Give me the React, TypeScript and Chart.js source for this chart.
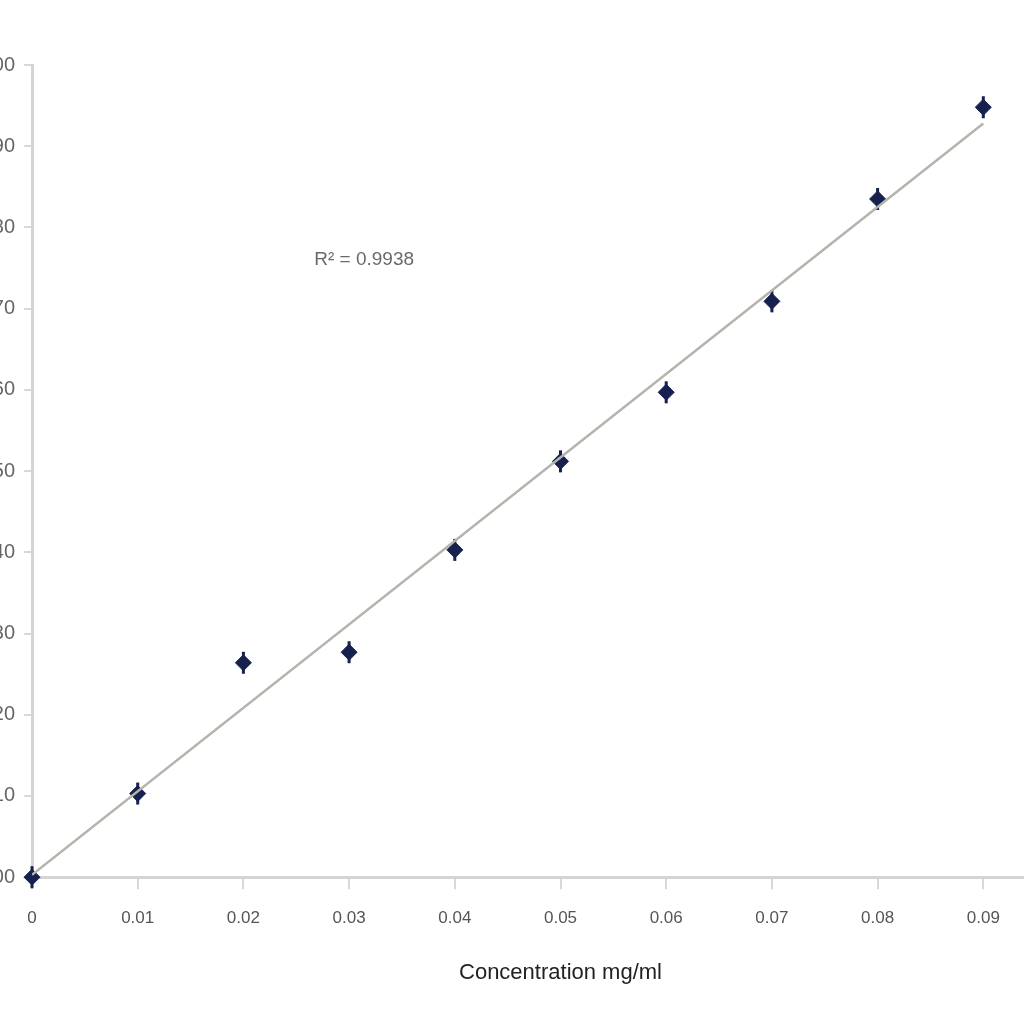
import React, { useEffect, useRef } from "react";
import { Chart, registerables } from "chart.js";

Chart.register(...registerables);

const concentrations = [0, 0.01, 0.02, 0.03, 0.04, 0.05, 0.06, 0.07, 0.08, 0.09];
const absorbance = [0, 0.103, 0.264, 0.277, 0.403, 0.512, 0.597, 0.709, 0.835, 0.948];
const trendX = [0, 0.09];
const trendY = [0.003, 0.928];
const rSquaredLabel = "R\u00B2 = 0.9938";
const xTitle = "Concentration mg/ml";

const FONT = "'Liberation Sans Narrow', 'Liberation Sans', Arial, sans-serif";

export default function App() {
  const ref = useRef<HTMLCanvasElement | null>(null);

  useEffect(() => {
    if (!ref.current) return;
    const pts = concentrations.map((x, i) => ({ x, y: absorbance[i] }));
    const annot = {
      id: "r2label",
      afterDatasetsDraw(chart: any) {
        const { ctx, scales } = chart;
        const px = scales.x.getPixelForValue(0.0267);
        const py = scales.y.getPixelForValue(0.76);
        ctx.save();
        ctx.font = `19px ${FONT}`;
        ctx.fillStyle = "#6a6a6a";
        ctx.textAlign = "left";
        ctx.textBaseline = "middle";
        ctx.fillText(rSquaredLabel, px, py);
        ctx.restore();
      },
    };
    const chart = new Chart(ref.current, {
      type: "scatter",
      data: {
        datasets: [
          {
            type: "line",
            data: trendX.map((x, i) => ({ x, y: trendY[i] })),
            borderColor: "#b4b4ac",
            borderWidth: 2.5,
            pointRadius: 0,
            fill: false,
          } as any,
          {
            data: pts,
            pointStyle: "line",
            rotation: 90,
            pointRadius: 11,
            borderColor: "#16214f",
            borderWidth: 3,
            backgroundColor: "#16214f",
            clip: false,
          },
          {
            data: pts,
            pointStyle: "rectRot",
            pointRadius: 8,
            borderColor: "#16214f",
            backgroundColor: "#16214f",
            borderWidth: 1,
            clip: false,
          },
        ],
      },
      options: {
        animation: false,
        responsive: true,
        maintainAspectRatio: false,
        layout: { padding: { top: 65, right: 20, bottom: 34, left: 0 } },
        plugins: { legend: { display: false }, tooltip: { enabled: false } },
        scales: {
          x: {
            type: "linear",
            min: 0,
            max: 0.1,
            border: { display: true, color: "#d4d4d4", width: 3 },
            grid: { drawOnChartArea: false, tickLength: 12, color: "#d8d8d8", lineWidth: 2 },
            ticks: {
              stepSize: 0.01,
              includeBounds: false,
              padding: 19,
              color: "#555555",
              font: { family: FONT, size: 17 },
              callback: (v: any) => (Number(v) > 0.095 ? "" : Number(Number(v).toFixed(2)).toString()),
            },
            title: {
              display: true,
              text: xTitle,
              color: "#222222",
              font: { family: FONT, size: 22 },
              padding: { top: 12 },
            },
          },
          y: {
            type: "linear",
            min: 0,
            max: 1,
            border: { display: true, color: "#d4d4d4", width: 3 },
            grid: { drawOnChartArea: false, tickLength: 8, color: "#d8d8d8", lineWidth: 2 },
            ticks: {
              stepSize: 0.1,
              padding: 9,
              color: "#666666",
              font: { family: FONT, size: 20 },
              callback: (v: any) => Number(v).toFixed(2),
            },
            afterFit: (scale: any) => {
              scale.width = 60;
            },
          },
        },
      } as any,
      plugins: [annot],
    });
    return () => chart.destroy();
  }, []);

  return (
    <div style={{ position: "fixed", left: 0, top: 0, width: 1024, height: 1024, overflow: "hidden", background: "#ffffff" }}>
      <div style={{ position: "absolute", left: -28, top: 0, width: 1137, height: 1024 }}>
        <canvas ref={ref} />
      </div>
    </div>
  );
}
